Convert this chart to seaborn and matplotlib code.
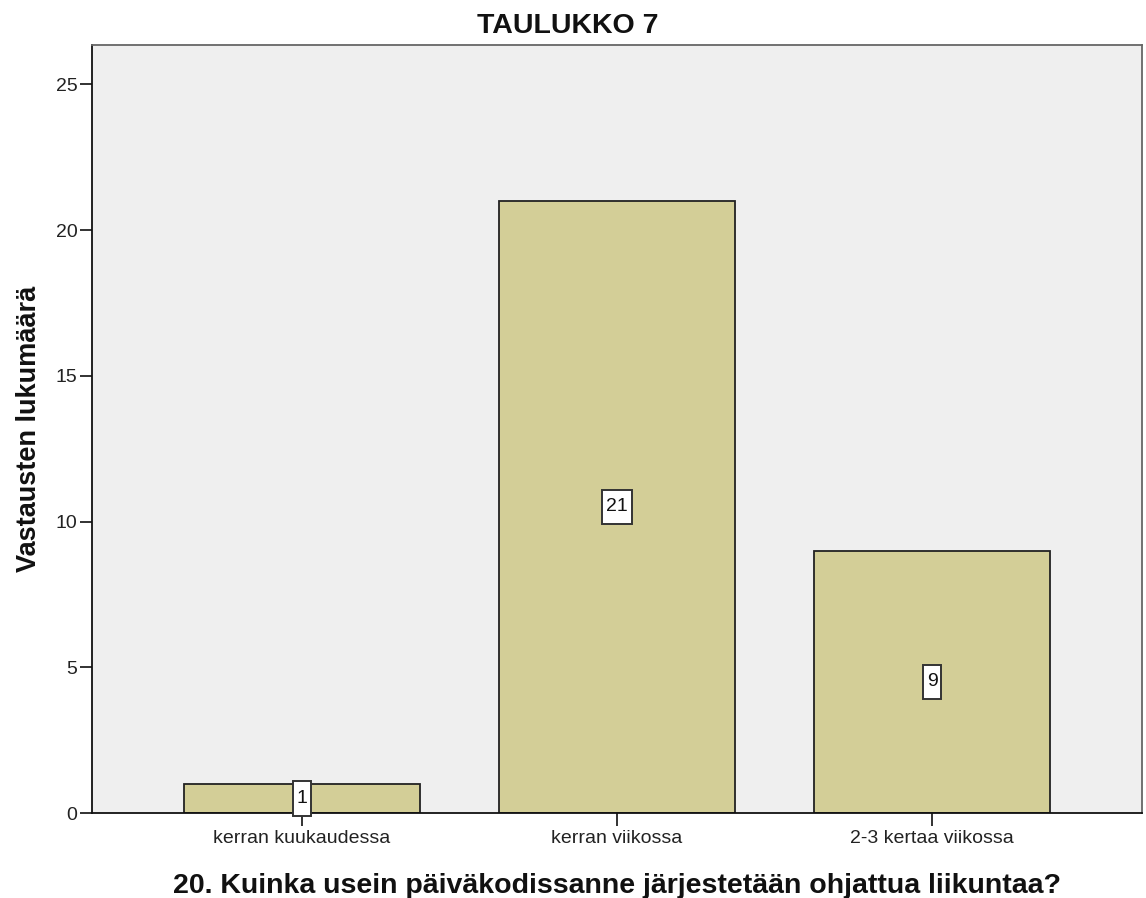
import matplotlib
matplotlib.use("Agg")
import matplotlib.pyplot as plt
from matplotlib.path import Path
import seaborn as sns
import pandas as pd

categories = ["kerran kuukaudessa", "kerran viikossa", "2-3 kertaa viikossa"]
counts = [1, 21, 9]
y_ticks = [0, 5, 10, 15, 20, 25]

sns.set_theme(style="white")
plt.rcParams["font.family"] = ["Liberation Sans", "DejaVu Sans"]

df = pd.DataFrame({"kategoria": categories, "lukumaara": counts})


def tall_box(x0, y0, width, height, mutation_size):
    """Rectangle with narrow side padding and taller top/bottom padding."""
    px, py = 0.2 * mutation_size, 0.45 * mutation_size
    x0, y0 = x0 - px, y0 - py
    x1, y1 = x0 + width + 2 * px, y0 + height + 2 * py
    return Path([(x0, y0), (x1, y0), (x1, y1), (x0, y1), (x0, y0)], closed=True)


fig = plt.figure(figsize=(11.46, 8.98), dpi=100)
ax = fig.add_axes([92 / 1146, 1 - 813 / 898, 1050 / 1146, 768 / 898])
ax.set_facecolor("#EFEFEF")

sns.barplot(data=df, x="kategoria", y="lukumaara", ax=ax, color="#D3CE97",
            width=0.75, edgecolor="#222222", linewidth=1.3, saturation=1)

# value labels in white boxes at the middle of each bar
for i, v in enumerate(counts):
    ax.text(i, v / 2, str(v), ha="center", va="center", fontsize=14, color="#111111",
            bbox=dict(boxstyle=tall_box, fc="white", ec="#333333", lw=1.4),
            clip_on=False, zorder=5)

ax.set_xlim(-2 / 3, 2 + 2 / 3)
ax.set_ylim(0, 26.35)
ax.set_yticks(y_ticks)
ax.tick_params(axis="both", which="both", direction="out", length=9, width=1.3,
               color="#222222", labelsize=14, labelcolor="#222222",
               left=True, bottom=True)
ax.tick_params(axis="y", pad=1.5)
ax.tick_params(axis="x", pad=3)

for side in ["left", "bottom"]:
    ax.spines[side].set_color("#111111")
    ax.spines[side].set_linewidth(1.3)
for side in ["top", "right"]:
    ax.spines[side].set_visible(True)
    ax.spines[side].set_color("#666666")
    ax.spines[side].set_linewidth(1.3)

ax.set_xlabel("20. Kuinka usein päiväkodissanne järjestetään ohjattua liikuntaa?",
              fontsize=20.5, fontweight="bold", labelpad=19, color="#111111")
ax.set_ylabel("Vastausten lukumäärä", fontsize=19.5, fontweight="bold",
              labelpad=10, color="#111111")
fig.suptitle("TAULUKKO 7", x=0.495, y=0.985, va="top", fontsize=20.5,
             fontweight="bold", color="#111111")

fig.savefig("out.png", dpi=100)
